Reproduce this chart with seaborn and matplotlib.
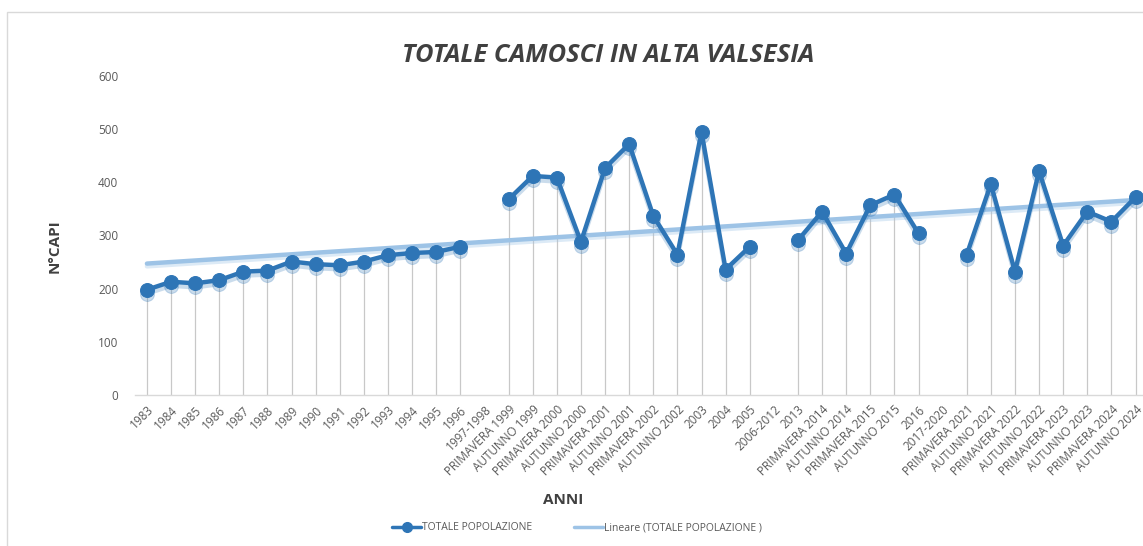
import numpy as np
import pandas as pd
import matplotlib
matplotlib.use("Agg")
import matplotlib.pyplot as plt
import matplotlib.patheffects as pe
import matplotlib.transforms as mtransforms
from matplotlib.lines import Line2D
from matplotlib.patches import Rectangle
import seaborn as sns

categories = ["1983", "1984", "1985", "1986", "1987", "1988", "1989", "1990", "1991", "1992",
              "1993", "1994", "1995", "1996", "1997-1998", "PRIMAVERA 1999", "AUTUNNO 1999",
              "PRIMAVERA 2000", "AUTUNNO 2000", "PRIMAVERA 2001", "AUTUNNO 2001",
              "PRIMAVERA 2002", "AUTUNNO 2002", "2003", "2004", "2005", "2006-2012", "2013",
              "PRIMAVERA 2014", "AUTUNNO 2014", "PRIMAVERA 2015", "AUTUNNO 2015", "2016",
              "2017-2020", "PRIMAVERA 2021", "AUTUNNO 2021", "PRIMAVERA 2022", "AUTUNNO 2022",
              "PRIMAVERA 2023", "AUTUNNO 2023", "PRIMAVERA 2024", "AUTUNNO 2024"]
values = [198, 213, 210, 216, 232, 234, 251, 246, 244, 251,
          263, 267, 269, 279, np.nan, 368, 412,
          409, 288, 427, 472,
          337, 264, 495, 236, 279, np.nan, 291,
          345, 266, 357, 377, 304,
          np.nan, 264, 397, 232, 421,
          281, 345, 326, 372]
series_name = "TOTALE POPOLAZIONE"
trend_name = "Lineare (TOTALE POPOLAZIONE )"
yticks = [0, 100, 200, 300, 400, 500, 600]

LINE = "#2E75B6"
TREND = "#9DC3E6"
TXT = "#595959"

sns.set_theme(style="white")
plt.rcParams['font.family'] = ['Open Sans', 'DejaVu Sans']

x = np.arange(len(categories))
vals = np.array(values, dtype=float)
seg = np.cumsum(np.isnan(vals))
df = pd.DataFrame({"x": x, "v": vals, "seg": seg}).dropna()

fig = plt.figure(figsize=(11.43, 5.46), dpi=100)
ax = fig.add_axes([0.118, 0.2766, 0.886, 0.5842])

# drop lines
ax.vlines(df["x"], 0, df["v"], color="#C8C8C8", lw=0.9, zorder=1)

# trend line
coef = np.polyfit(df["x"], df["v"], 1)
trend_df = pd.DataFrame({"x": x, "t": np.polyval(coef, x)})
sns.lineplot(data=trend_df, x="x", y="t", ax=ax, color=TREND, lw=3.2, zorder=2,
             legend=False)
ax.lines[-1].set_path_effects([pe.SimpleLineShadow(offset=(0, -2), shadow_color=TREND, alpha=0.35),
                               pe.Normal()])

# soft shadow of the main series
n0 = len(ax.lines)
sns.lineplot(data=df, x="x", y="v", units="seg", estimator=None, ax=ax, color=LINE,
             lw=3.2, marker="o", markersize=10, markeredgecolor=LINE, zorder=2.5,
             legend=False, alpha=0.25)
shadow_tr = mtransforms.offset_copy(ax.transData, fig=fig, x=0, y=-4, units="dots")
for ln in ax.lines[n0:]:
    ln.set_transform(shadow_tr)

# main series
sns.lineplot(data=df, x="x", y="v", units="seg", estimator=None, ax=ax, color=LINE,
             lw=3.2, marker="o", markersize=10, markeredgecolor=LINE, zorder=3, legend=False)

ax.set_xlim(-0.5, len(categories) - 0.5)
ax.set_ylim(0, 600)
ax.set_yticks(yticks)
ax.set_yticklabels([str(t) for t in yticks], color=TXT, fontsize=8.5)
ax.set_xticks(x)
ax.set_xticklabels(categories, rotation=45, ha="right", rotation_mode="anchor",
                   fontsize=8.5, color=TXT)
ax.tick_params(axis="both", length=0, pad=6)
ax.tick_params(axis="y", pad=12)
for s in ["top", "right", "left"]:
    ax.spines[s].set_visible(False)
ax.spines["bottom"].set_color("#D9D9D9")
ax.spines["bottom"].set_linewidth(1)
ax.set_xlabel("")
ax.set_ylabel("")
ax.grid(False)

fig.text(0.532, 0.899, "TOTALE CAMOSCI IN ALTA VALSESIA", ha="center", va="center",
         fontsize=18.3, fontweight="bold", fontstyle="italic", color="#404040")
fig.text(0.048, 0.55, "N°CAPI", ha="center", va="center", rotation=90,
         fontsize=11, fontweight="bold", color="#404040")
fig.text(0.493, 0.085, "ANNI", ha="center", va="center",
         fontsize=11, fontweight="bold", color="#404040")

handles = [Line2D([0], [0], color=LINE, lw=2.5, marker="o", markersize=7),
           Line2D([0], [0], color=TREND, lw=2.5)]
fig.legend(handles, [series_name, trend_name], loc="center", bbox_to_anchor=(0.505, 0.033),
           ncol=2, frameon=False, fontsize=7.5, labelcolor=TXT, columnspacing=4,
           handlelength=2.8, handletextpad=0.1)

fig.patches.append(Rectangle((0.006, -0.02), 1.1, 1.0 - 0.022 + 0.02, transform=fig.transFigure,
                             fill=False, edgecolor="#D9D9D9", lw=1))

fig.savefig("out.png", dpi=100)
